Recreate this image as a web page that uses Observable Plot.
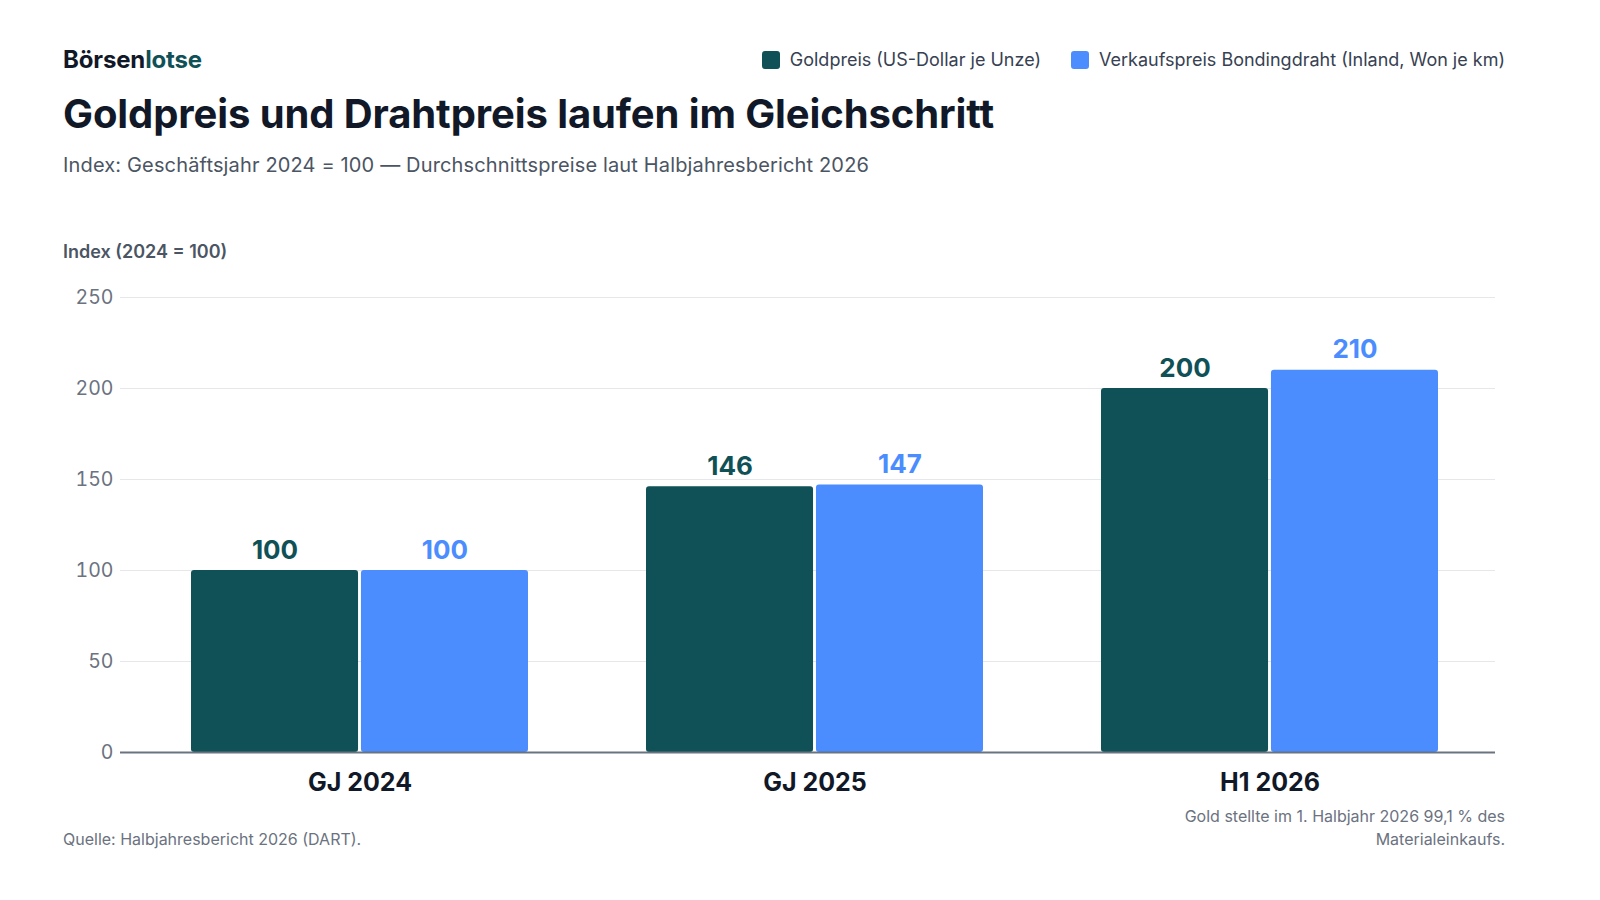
<!DOCTYPE html>
<html>
<head>
<meta charset="utf-8">
<script src="https://cdn.jsdelivr.net/npm/d3@7"></script>
<script src="https://cdn.jsdelivr.net/npm/@observablehq/plot@0.6"></script>
<style>
  html, body { margin: 0; padding: 0; background: #fff; }
  body { width: 1600px; height: 900px; position: relative; font-family: Inter, "Noto Sans", sans-serif; overflow: hidden; }
  .abs { position: absolute; white-space: nowrap; }
  #logo { left: 63px; top: 45px; font-size: 24px; font-weight: 700; letter-spacing: -0.15px; color: #111827; line-height: 30px; }
  #logo span { color: #0f5156; }
  #legend { right: 95px; top: 47px; display: flex; gap: 30px; font-size: 18px; color: #374151; line-height: 26px; }
  #legend .item { display: flex; align-items: center; gap: 10px; }
  #legend .sw { width: 18px; height: 18px; border-radius: 3px; display: inline-block; }
  #title { left: 63px; top: 88px; font-size: 40px; font-weight: 700; letter-spacing: -0.1px; color: #111827; line-height: 52px; }
  #subtitle { left: 63px; top: 151px; font-size: 20px; letter-spacing: 0.15px; color: #4b5563; line-height: 28px; }
  #ylabel { left: 63px; top: 240px; font-size: 18px; font-weight: 600; color: #4b5563; line-height: 24px; }
  #chart { left: 0; top: 280px; }
  #source { left: 63px; top: 828px; font-size: 16px; color: #6b7280; line-height: 23px; }
  #note { right: 95px; top: 805px; width: 340px; white-space: normal; text-align: right; font-size: 16px; color: #6b7280; line-height: 23px; }
</style>
</head>
<body>
<div id="logo" class="abs">Börsen<span>lotse</span></div>
<div id="legend" class="abs"></div>
<div id="title" class="abs">Goldpreis und Drahtpreis laufen im Gleichschritt</div>
<div id="subtitle" class="abs">Index: Geschäftsjahr 2024 = 100 — Durchschnittspreise laut Halbjahresbericht 2026</div>
<div id="ylabel" class="abs">Index (2024 = 100)</div>
<div id="chart" class="abs"></div>
<div id="source" class="abs">Quelle: Halbjahresbericht 2026 (DART).</div>
<div id="note" class="abs">Gold stellte im 1. Halbjahr 2026 99,1 % des Materialeinkaufs.</div>
<script>
// ---- data ----
const groups = ["GJ 2024", "GJ 2025", "H1 2026"];
const goldValues = [100, 146, 200];
const wireValues = [100, 147, 210];
const seriesNames = ["Goldpreis (US-Dollar je Unze)", "Verkaufspreis Bondingdraht (Inland, Won je km)"];
const seriesColors = ["#0f5156", "#4b8dff"];
const yTicks = [0, 50, 100, 150, 200, 250];

// ---- legend ----
const legend = document.getElementById("legend");
seriesNames.forEach((name, i) => {
  const item = document.createElement("div");
  item.className = "item";
  item.innerHTML = `<span class="sw" style="background:${seriesColors[i]}"></span><span>${name}</span>`;
  legend.appendChild(item);
});

// ---- chart ----
const W = 1600, H = 532;
const mL = 120, mR = 105, mT = 17, mB = 60;
const padIn = 0.26, padOut = 0.14, align = 0.55;
const bw = d3.scaleBand().domain(groups).range([mL, W - mR])
  .paddingInner(padIn).paddingOuter(padOut).align(align).bandwidth();
const gap = 1.5;

const gold = groups.map((g, i) => ({group: g, value: goldValues[i]}));
const wire = groups.map((g, i) => ({group: g, value: wireValues[i]}));

const plot = Plot.plot({
  width: W, height: H,
  marginLeft: mL, marginRight: mR, marginTop: mT, marginBottom: mB,
  style: {fontFamily: "Inter, 'Noto Sans', sans-serif", background: "transparent"},
  x: {domain: groups, paddingInner: padIn, paddingOuter: padOut, align: align, label: null},
  y: {domain: [0, 250], label: null},
  marks: [
    Plot.gridY({ticks: yTicks, stroke: "#e5e7eb", strokeOpacity: 1, strokeWidth: 1}),
    Plot.axisY({ticks: yTicks, tickSize: 0, tickPadding: 7, fontSize: 19.5, fill: "#6b7280", label: null}),
    Plot.barY(gold, {x: "group", y: "value", fill: seriesColors[0], insetRight: bw / 2 + gap, rx: 3}),
    Plot.barY(wire, {x: "group", y: "value", fill: seriesColors[1], insetLeft: bw / 2 + gap, rx: 3}),
    Plot.text(gold, {x: "group", y: "value", text: d => String(d.value), dx: -(bw / 4 + gap / 2), dy: -12,
      lineAnchor: "bottom", fontSize: 26, fontWeight: 700, fill: seriesColors[0]}),
    Plot.text(wire, {x: "group", y: "value", text: d => String(d.value), dx: (bw / 4 + gap / 2), dy: -12,
      lineAnchor: "bottom", fontSize: 26, fontWeight: 700, fill: seriesColors[1]}),
    Plot.ruleY([0], {stroke: "#6b7280", strokeWidth: 2}),
    Plot.axisX({tickSize: 0, tickPadding: 21, fontSize: 25, fontWeight: 700, fill: "#111827", label: null})
  ]
});
document.getElementById("chart").appendChild(plot);
</script>
</body>
</html>
